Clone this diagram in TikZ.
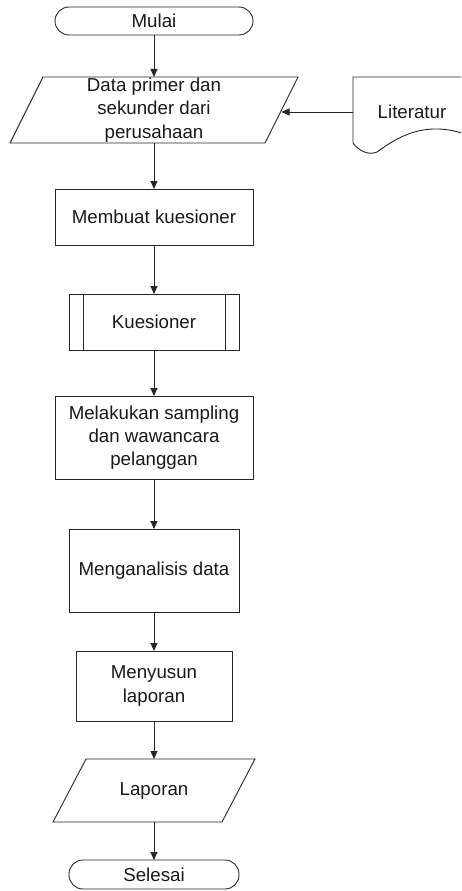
\documentclass[tikz,border=0pt]{standalone}
\usepackage{fontspec}
\setmainfont{Liberation Sans}
\usetikzlibrary{arrows.meta}
\begin{document}
\begin{tikzpicture}[x=1pt,y=-1pt,
  every node/.style={inner sep=0pt,outer sep=0pt,align=center,
    font=\fontsize{18.7}{23.3}\selectfont, text=black!90},
  box/.style={draw=black!85,line width=0.9pt,rectangle},
  term/.style={box,rounded corners=14pt},
  plain/.style={draw=none},
  shp/.style={draw=black!85,line width=0.9pt,line join=miter},
  arr/.style={draw=black!85,line width=0.9pt,-{Triangle[length=8pt,width=7pt]}}]
\useasboundingbox (0,0) rectangle (461,891);
\clip (0,0) rectangle (461,891);
\fill[white] (0,0) rectangle (461,891);

\node[term,minimum width=198pt,minimum height=28pt] (mulai) at (154,21) {Mulai};
\node[plain,minimum width=255pt,minimum height=66pt] (data) at (154,110) {Data primer dan\\sekunder dari\\perusahaan};
\draw[shp] ([xshift=16.5pt]data.north west) -- ([xshift=16.5pt]data.north east)
  -- ([xshift=-16.5pt]data.south east) -- ([xshift=-16.5pt]data.south west) -- cycle;

\node[plain,minimum width=118pt,minimum height=66pt] (lit) at (412,112) {Literatur};
\draw[shp] (353,143) -- (353,77) -- (475,77) -- (475,138)
  .. controls (430,118) and (400,135) .. (377,152)
  .. controls (368,156) and (358,150) .. (353,143);

\node[box,minimum width=198pt,minimum height=56pt] (buat) at (154,217) {Membuat kuesioner};
\node[box,minimum width=170pt,minimum height=56pt] (kues) at (154,322) {Kuesioner};
\draw[shp] ([xshift=14pt]kues.north west) -- ([xshift=14pt]kues.south west);
\draw[shp] ([xshift=-14pt]kues.north east) -- ([xshift=-14pt]kues.south east);
\node[box,minimum width=198pt,minimum height=83pt] (sampling) at (154,437.5) {Melakukan sampling\\dan wawancara\\pelanggan};
\node[box,minimum width=170pt,minimum height=83pt] (analisis) at (154,570.5) {Menganalisis data};
\node[box,minimum width=156pt,minimum height=70pt] (susun) at (154,686) {Menyusun\\laporan};
\node[plain,minimum width=169pt,minimum height=63pt] (lapor) at (154,790.5) {Laporan};
\draw[shp] ([xshift=16.5pt]lapor.north west) -- ([xshift=16.5pt]lapor.north east)
  -- ([xshift=-16.5pt]lapor.south east) -- ([xshift=-16.5pt]lapor.south west) -- cycle;
\node[term,minimum width=170pt,minimum height=29pt] (selesai) at (154,874.5) {Selesai};

\draw[arr] (mulai) -- (data);
\draw[arr] (lit.west) -- (lit.west -| data.east);
\draw[arr] (data) -- (buat);
\draw[arr] (buat) -- (kues);
\draw[arr] (kues) -- (sampling);
\draw[arr] (sampling) -- (analisis);
\draw[arr] (analisis) -- (susun);
\draw[arr] (susun) -- (lapor);
\draw[arr] (lapor) -- (selesai);
\end{tikzpicture}
\end{document}
